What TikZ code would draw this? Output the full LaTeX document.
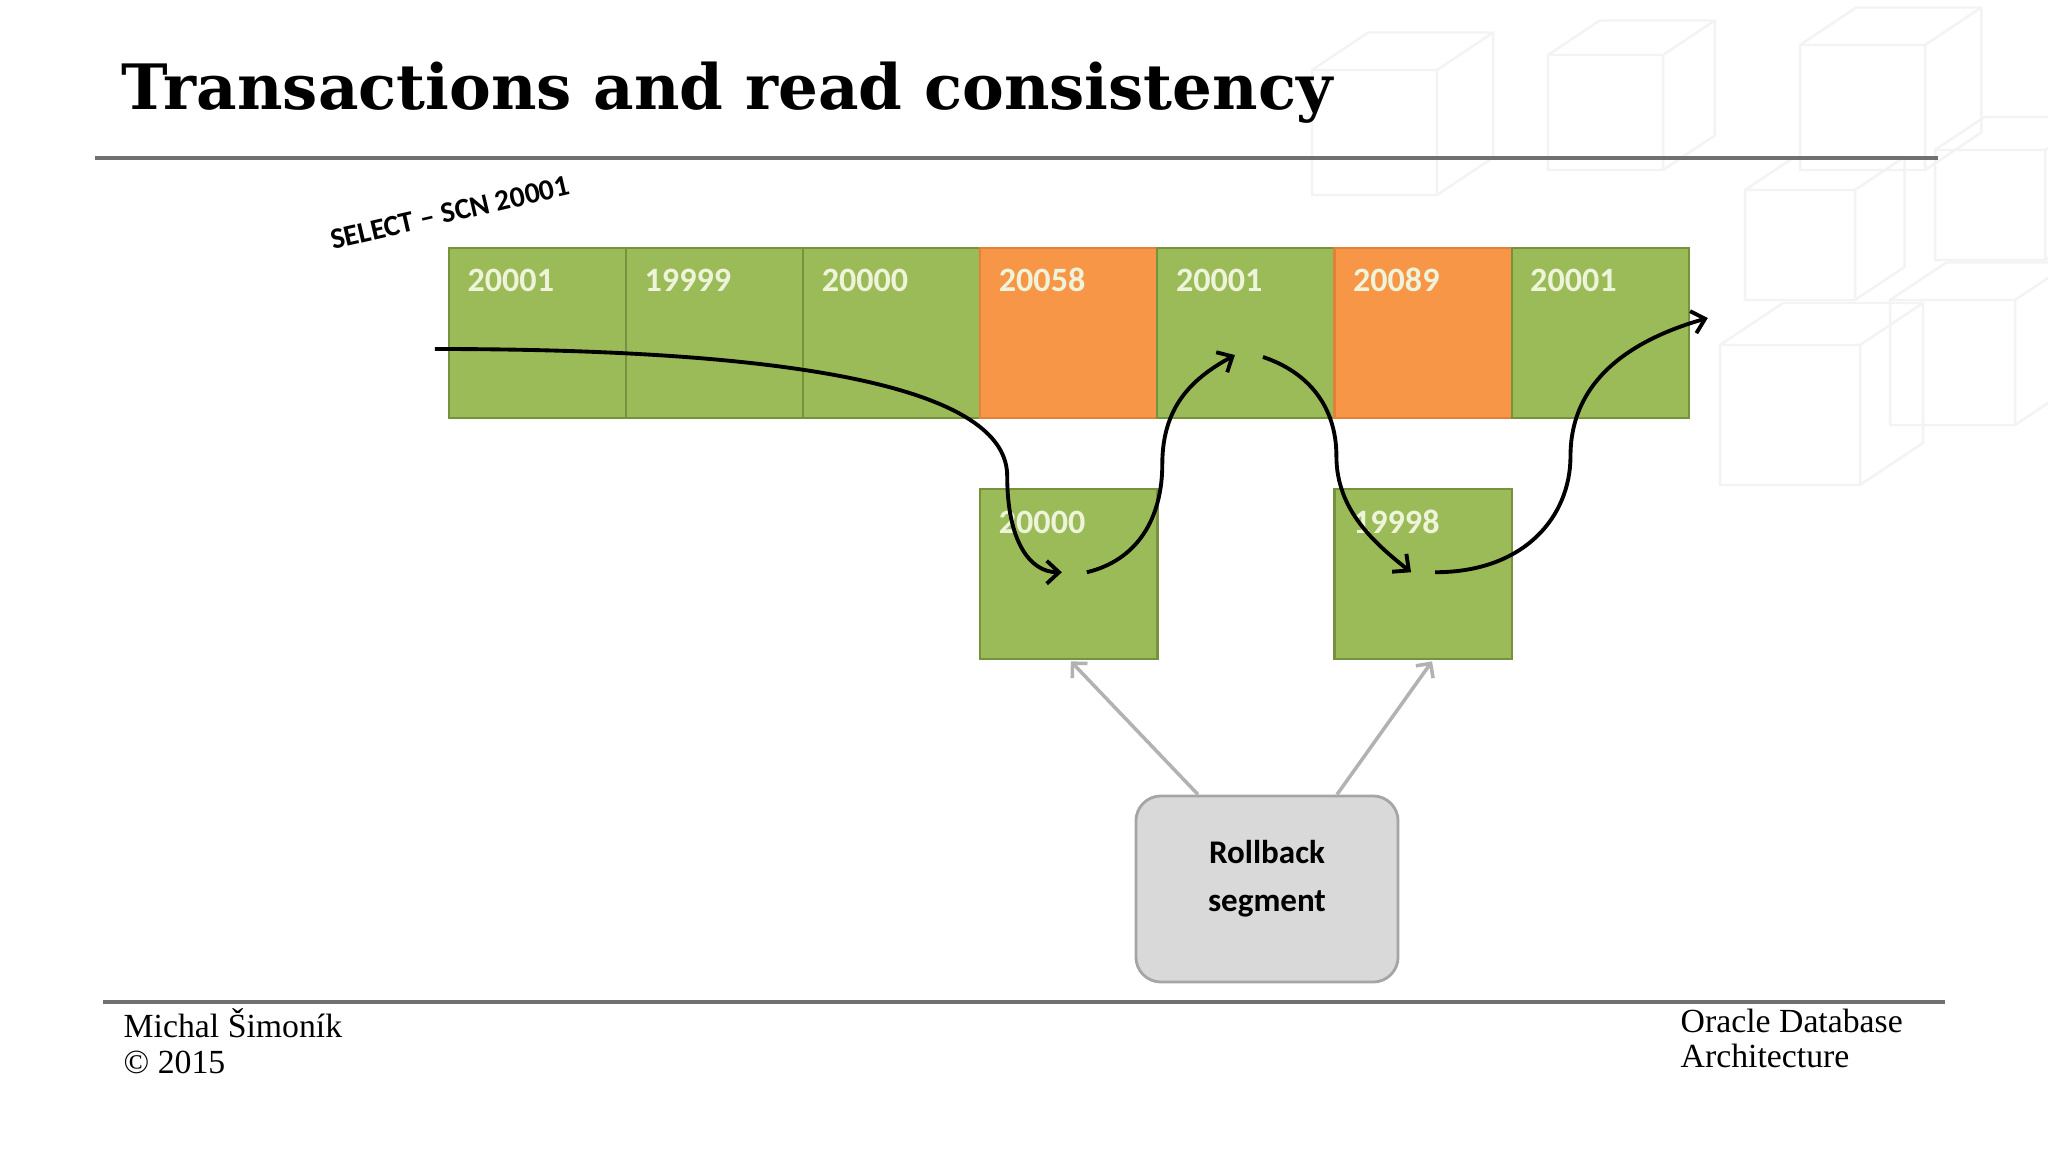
\documentclass[tikz,border=0pt]{standalone}
\usepackage{fontspec}
\usepackage{xcolor}
\usepackage{tikz}
\usetikzlibrary{arrows.meta, calc, positioning}
\newfontfamily\cellfont{Carlito}
\newfontfamily\headfont{DejaVu Serif}
\newfontfamily\footfont{Liberation Serif}
\definecolor{cellgreen}{RGB}{155, 187, 89}
\definecolor{cellorange}{RGB}{247, 150, 70}
\definecolor{greenline}{RGB}{118, 146, 60}
\definecolor{orangeline}{RGB}{226, 130, 56}
\definecolor{celltext}{RGB}{238, 244, 218}
\definecolor{rulegray}{RGB}{112, 112, 112}
\definecolor{rbfill}{RGB}{217, 217, 217}
\definecolor{rbline}{RGB}{165, 165, 165}
\definecolor{arrowgray}{RGB}{178, 178, 178}
\definecolor{cubegray}{RGB}{243, 243, 243}

% faint cube of the slide background: x, y, size
\newcommand{\bgcube}[3]{%
  \draw[cubegray, line width=0.7pt] (#1,#2) rectangle ++(#3,#3)
    (#1,#2) -- ++(0.45*#3,-0.3*#3) -- ++(#3,0) -- ++(0,#3) -- ++(-0.45*#3,0.3*#3)
    (#1+#3,#2) -- ++(0.45*#3,-0.3*#3);
}

\begin{document}
\begin{tikzpicture}[
    x = 0.01cm, y = -0.01cm,
    cell/.style      = {rectangle, minimum width=1.771cm, minimum height=1.70cm,
                        inner sep=0pt, line width=0.6pt},
    celllabel/.style = {inner sep=0pt, text=celltext,
                        font=\cellfont\bfseries\fontsize{9.7pt}{11pt}\selectfont},
    rbbox/.style     = {rectangle, rounded corners=0.25cm, minimum width=2.62cm,
                        minimum height=1.86cm, fill=rbfill, draw=rbline, line width=0.8pt},
    flow/.style      = {-{Straight Barb[length=3.5pt, width=6.5pt]}, line width=1.1pt},
    backref/.style   = {-{Straight Barb[length=3pt, width=6pt]}, line width=1pt, color=arrowgray},
    rule/.style      = {line width=1.1pt, color=rulegray},
  ]
  \fill[white] (0,0) rectangle (2048,1152);
  \useasboundingbox (0,0) rectangle (2048,1152);

  % background
  \bgcube{1312}{70}{125}
  \bgcube{1548}{55}{115}
  \bgcube{1800}{45}{125}
  \bgcube{1935}{150}{110}
  \bgcube{1745}{190}{110}
  \bgcube{1890}{300}{125}
  \bgcube{1720}{345}{140}

  % heading and footer
  \node[anchor=base west, inner sep=0pt,
        font=\headfont\bfseries\fontsize{17.8pt}{20pt}\selectfont] (title) at (121,110)
    {Transactions and read consistency};
  \draw[rule] (95,158) -- (1938,158);
  \draw[rule] (103,1002) -- (1945,1002);
  \node[anchor=base west, inner sep=0pt, align=left,
        font=\footfont\fontsize{9.6pt}{10.1pt}\selectfont] (author) at (123,1073)
    {Michal Šimoník\\© 2015};
  \node[anchor=base west, inner sep=0pt, align=left,
        font=\footfont\fontsize{9.6pt}{9.8pt}\selectfont] (course) at (1680,1067)
    {Oracle Database\\Architecture};

  % data block row
  \foreach \v/\f/\d [count=\i] in {20001/cellgreen/greenline, 19999/cellgreen/greenline,
      20000/cellgreen/greenline, 20058/cellorange/orangeline, 20001/cellgreen/greenline,
      20089/cellorange/orangeline, 20001/cellgreen/greenline} {
    \node[cell, fill=\f, draw=\d] (t\i) at ({449+177.1*(\i-0.5)}, 333) {};
    \node[celllabel, anchor=base west] (l\i) at ($(t\i.north west)+(19,45)$) {\v};
  }

  % undo copies
  \node[cell, fill=cellgreen, draw=greenline, below=0.69cm of t4] (r1) {};
  \node[celllabel, anchor=base west] (rl1) at ($(r1.north west)+(19,45)$) {20000};
  \node[cell, fill=cellgreen, draw=greenline, below=0.69cm of t6] (r2) {};
  \node[celllabel, anchor=base west] (rl2) at ($(r2.north west)+(19,45)$) {19998};

  \node[rbbox] (rb) at (1267,889) {};
  \node[align=center, inner sep=0pt,
        font=\cellfont\bfseries\fontsize{9.4pt}{13.7pt}\selectfont] (rbt) at ($(rb.center)+(0,-10)$)
    {Rollback\\segment};

  \node[rotate=13, anchor=base, inner sep=0pt,
        font=\cellfont\bfseries\fontsize{8.4pt}{10pt}\selectfont] (sel) at (452,222)
    {SELECT – SCN 20001};

  % read path
  \coordinate (s0) at ($(t1.west)+(-13,16)$);
  \coordinate (k1) at ($(t4.south west)+(28,57)$);
  \coordinate (e1) at ($(r1.center)+(-7,-2)$);
  \coordinate (s2) at ($(r1.center)+(18,-2)$);
  \coordinate (k2) at ($(t5.south west)+(6,45)$);
  \coordinate (e2) at ($(t5.center)+(-11,22)$);
  \coordinate (s3) at ($(t5.center)+(17,24)$);
  \coordinate (k3) at ($(t6.south west)+(3,37)$);
  \coordinate (e3) at ($(r2.center)+(-12,-2)$);
  \coordinate (s4) at ($(r2.center)+(12,-2)$);
  \coordinate (k4) at ($(t7.south west)+(60,37)$);
  \coordinate (e4) at ($(t7.east)+(18,-15)$);

  \draw[flow] (s0) .. controls +(400,0) and +(0,-80) .. (k1)
                   .. controls +(0,65) and +(-32,0) .. (e1);
  \draw[flow] (s2) .. controls +(50,-12) and +(0,55) .. (k2)
                   .. controls +(0,-60) and +(-40,22) .. (e2);
  \draw[flow] (s3) .. controls +(45,15) and +(0,-50) .. (k3)
                   .. controls +(0,55) and +(-35,-28) .. (e3);
  \draw[flow] (s4) .. controls +(90,0) and +(0,60) .. (k4)
                   .. controls +(0,-80) and +(-70,20) .. (e4);

  % rollback segment feeds the copies
  \coordinate (b1) at ($(rb.north)+(-69,0)$);
  \coordinate (b2) at ($(rb.north)+(70,0)$);
  \draw[backref] (b1) -- ($(r1.south)+(2,1)$);
  \draw[backref] (b2) -- ($(r2.south)+(9,1)$);
\end{tikzpicture}
\end{document}
